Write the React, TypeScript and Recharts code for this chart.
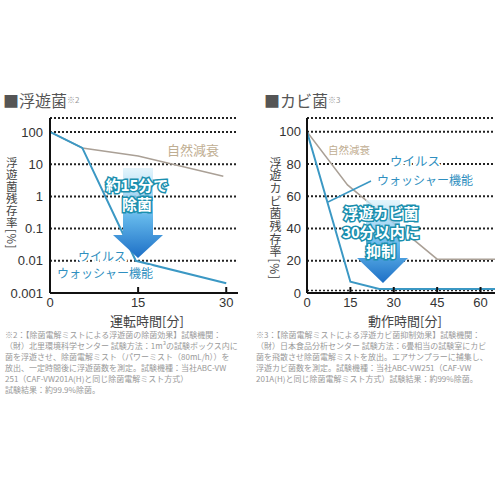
import { LineChart, Line, XAxis, YAxis, CartesianGrid, ReferenceLine } from "recharts";

// 浮遊菌 (left chart, log scale)
const airTime = [0, 5.5, 14.6, 30];
const airWasher = [100, 32, 0.01, 0.002];
const airNaturalTime = [0, 5.5, 15, 29.5];
const airNatural = [100, 32, 18, 4.2];
const airTicksX = [0, 15, 30];
const airTicksY = [0.001, 0.01, 0.1, 1, 10, 100];

// カビ菌 (right chart, linear)
const moldTime = [0, 15, 25, 65];
const moldWasher = [100, 7, 2.5, 2.5];
const moldNaturalTime = [0, 14, 45, 65];
const moldNatural = [100, 67, 21, 21];
const moldTicksX = [0, 15, 30, 45, 60];
const moldTicksY = [0, 20, 40, 60, 80, 100];

const noteLeft = [
  "※2：【除菌電解ミストによる浮遊菌の除菌効果】試験機関：",
  "（財）北里環境科学センター 試験方法：1m³の試験ボックス内に",
  "菌を浮遊させ、除菌電解ミスト（パワーミスト（80mL/h））を",
  "放出、一定時間後に浮遊菌数を測定。試験機種：当社ABC-VW",
  "251（CAF-VW201A(H)と同じ除菌電解ミスト方式）",
  "試験結果：約99.9%除菌。",
];
const noteRight = [
  "※3：【除菌電解ミストによる浮遊カビ菌抑制効果】試験機関：",
  "（財）日本食品分析センター 試験方法：6畳相当の試験室にカビ",
  "菌を飛散させ除菌電解ミストを放出。エアサンプラーに捕集し、",
  "浮遊カビ菌数を測定。試験機種：当社ABC-VW251（CAF-VW",
  "201A(H)と同じ除菌電解ミスト方式）試験結果：約99%除菌。",
];

const BLUE = "#3b98c4";
const BEIGE = "#aaa096";
const JP = '"Noto Sans CJK JP", sans-serif';

const toRows = (t: number[], v: number[]) => t.map((x, i) => ({ t: x, v: v[i] }));

function XTick(props: any) {
  const { x, y, payload } = props;
  return (
    <g>
      {payload.value !== 0 && (
        <line x1={x} x2={x} y1={y - 4} y2={y - 10} stroke="#111" strokeWidth={2} />
      )}
      <text x={x} y={y} dy="0.75em" textAnchor="middle" fontSize={13} fill="#333">
        {payload.value}
      </text>
    </g>
  );
}

const axisStyle = { stroke: "#111", strokeWidth: 2 };

function VLabel({ text, x, top, size, spacing }: { text: string; x: number; top: number; size: number; spacing: number }) {
  return (
    <div
      style={{
        position: "absolute",
        left: x - size / 2,
        top,
        width: size,
        writingMode: "vertical-rl",
        fontFamily: JP,
        fontSize: size,
        lineHeight: 1,
        color: "#444",
        letterSpacing: spacing,
      }}
    >
      {text}
      <span style={{ textOrientation: "sideways" }}>[%]</span>
    </div>
  );
}

export default function App() {
  return (
    <div
      style={{
        position: "absolute",
        left: 0,
        top: 0,
        width: 500,
        height: 500,
        background: "#fff",
        overflow: "hidden",
        fontFamily: '"Liberation Sans", Arial, sans-serif',
      }}
    >
      <div style={{ position: "absolute", left: 0, top: 0 }}>
        <LineChart width={250} height={320} margin={{ top: 118, right: 12, left: 0, bottom: 0 }}>
          <CartesianGrid vertical={false} stroke="#222" strokeWidth={2} strokeDasharray="2 2" />
          <XAxis
            type="number"
            dataKey="t"
            domain={[0, 32]}
            ticks={airTicksX}
            allowDataOverflow
            height={27}
            tickLine={false}
            tickSize={0}
            tickMargin={4}
            tick={<XTick />}
            axisLine={axisStyle}
          />
          <YAxis
            type="number"
            dataKey="v"
            scale="log"
            domain={[0.001, 272]}
            ticks={airTicksY}
            allowDataOverflow
            width={50}
            tickLine={false}
            tickSize={0}
            tickMargin={7}
            tick={{ fontSize: 13, fill: "#333" }}
            axisLine={axisStyle}
          />
          <Line
            data={toRows(airNaturalTime, airNatural)}
            dataKey="v"
            stroke={BEIGE}
            strokeWidth={1.5}
            dot={false}
            isAnimationActive={false}
          />
          <Line
            data={toRows(airTime, airWasher)}
            dataKey="v"
            stroke={BLUE}
            strokeWidth={2}
            dot={false}
            isAnimationActive={false}
          />
        </LineChart>
      </div>

      <div style={{ position: "absolute", left: 250, top: 0 }}>
        <LineChart width={250} height={320} margin={{ top: 118, right: 5, left: 0, bottom: 0 }}>
          <CartesianGrid vertical={false} stroke="#222" strokeWidth={2} strokeDasharray="2 2" />
          <ReferenceLine y={1.5} stroke="#222" strokeWidth={1.5} strokeDasharray="2 2" />
          <XAxis
            type="number"
            dataKey="t"
            domain={[0, 65]}
            ticks={moldTicksX}
            allowDataOverflow
            height={27}
            tickLine={false}
            tickSize={0}
            tickMargin={4}
            tick={<XTick />}
            axisLine={axisStyle}
          />
          <YAxis
            type="number"
            dataKey="v"
            domain={[0, 108.5]}
            ticks={moldTicksY}
            allowDataOverflow
            width={57}
            tickLine={false}
            tickSize={0}
            tickMargin={6}
            tick={{ fontSize: 13, fill: "#333" }}
            axisLine={axisStyle}
          />
          <Line
            data={toRows(moldNaturalTime, moldNatural)}
            dataKey="v"
            stroke={BEIGE}
            strokeWidth={1.5}
            dot={false}
            isAnimationActive={false}
          />
          <Line
            data={toRows(moldTime, moldWasher)}
            dataKey="v"
            stroke={BLUE}
            strokeWidth={2}
            dot={false}
            isAnimationActive={false}
          />
        </LineChart>
      </div>

      {/* titles, labels, arrows */}
      <svg
        width={500}
        height={500}
        style={{ position: "absolute", left: 0, top: 0, pointerEvents: "none", fontFamily: JP }}
      >
        <defs>
          <linearGradient id="arrowGrad" x1="0" y1="0" x2="0" y2="1">
            <stop offset="0" stopColor="#d9f1fb" stopOpacity={0.7} />
            <stop offset="0.55" stopColor="#62b6ea" />
            <stop offset="1" stopColor="#1d6fc6" />
          </linearGradient>
        </defs>

        <text x={3} y={107} fontSize={16} fill="#555">
          ■浮遊菌<tspan fontSize={8} fill="#999" dy={-4}>※2</tspan>
        </text>
        <text x={264} y={107} fontSize={16} fill="#555">
          ■カビ菌<tspan fontSize={8} fill="#999" dy={-4}>※3</tspan>
        </text>

        <text x={147} y={326} textAnchor="middle" fontSize={13} fill="#444">運転時間[分]</text>
        <text x={405} y={326} textAnchor="middle" fontSize={13} fill="#444">動作時間[分]</text>

        {/* left annotations */}
        <text x={167} y={155} fontSize={13} fill="#bfae92">自然減衰</text>
        <polygon
          points="123,168 153,168 153,235 163,235 138,258 113,235 123,235"
          fill="url(#arrowGrad)"
        />
        <g fontSize={15} fontWeight={700} textAnchor="middle" fill="#fff" stroke="#1b8fae" strokeWidth={3} style={{ paintOrder: "stroke" }}>
          <text x={137} y={191}>約15分で</text>
          <text x={137} y={210}>除菌</text>
        </g>
        <g fontSize={12} fill="#2f8fc0" stroke="#fff" strokeWidth={4} style={{ paintOrder: "stroke" }}>
          <text x={78} y={261}>ウイルス</text>
          <text x={57} y={278}>ウォッシャー機能</text>
        </g>

        {/* right annotations */}
        <text x={328} y={154} fontSize={10.5} fill="#bfae92">自然減衰</text>
        <line x1={371} y1={181} x2={328} y2={202} stroke={BLUE} strokeWidth={1.5} />
        <g fill="#2f8fc0" stroke="#fff" strokeWidth={4} style={{ paintOrder: "stroke" }}>
          <text x={390} y={166} fontSize={12.5}>ウイルス</text>
          <text x={377} y={185} fontSize={12}>ウォッシャー機能</text>
        </g>
        <polygon
          points="366,200 400,200 400,258 408,258 383,283 357,258 366,258"
          fill="url(#arrowGrad)"
        />
        <g fontSize={15} fontWeight={700} textAnchor="middle" fill="#fff" stroke="#1b8fae" strokeWidth={3} style={{ paintOrder: "stroke" }}>
          <text x={381} y={219}>浮遊カビ菌</text>
          <text x={381} y={238}>30分以内に</text>
          <text x={381} y={257}>抑制</text>
        </g>
      </svg>

      <VLabel text="浮遊菌残存率" x={11} top={157} size={11.5} spacing={0.5} />
      <VLabel text="浮遊カビ菌残存率" x={275} top={157} size={12} spacing={0.7} />

      <div style={{ position: "absolute", left: 5, top: 329, fontFamily: JP, fontSize: 8, lineHeight: "11px", color: "#999", whiteSpace: "nowrap" }}>
        {noteLeft.map((s) => (
          <div key={s}>{s}</div>
        ))}
      </div>
      <div style={{ position: "absolute", left: 256, top: 329, fontFamily: JP, fontSize: 8, lineHeight: "11px", color: "#999", whiteSpace: "nowrap" }}>
        {noteRight.map((s) => (
          <div key={s}>{s}</div>
        ))}
      </div>
    </div>
  );
}
